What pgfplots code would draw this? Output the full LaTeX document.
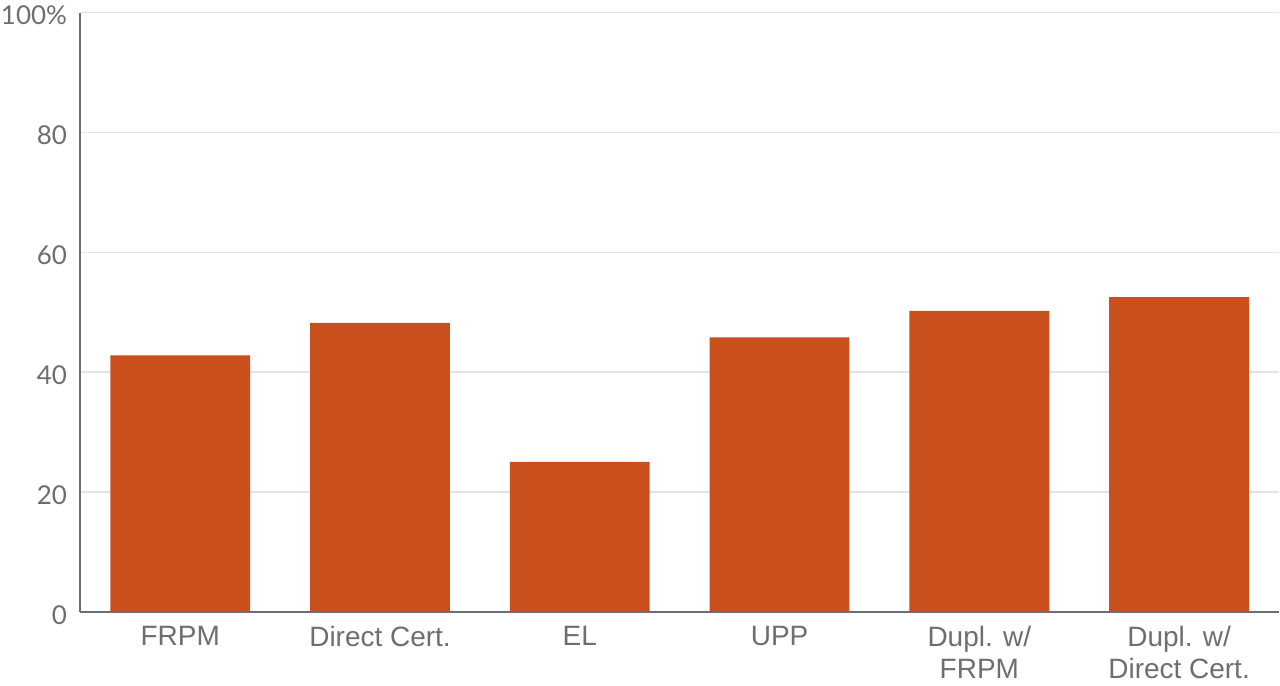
\documentclass[border=0pt]{standalone}
\usepackage{pgfplots}
\pgfplotsset{compat=1.18}
\usepackage{fontspec}
\setmainfont{Liberation Sans}
\newfontfamily\tickfont{Lato}
\definecolor{barc}{HTML}{C9501C}
\definecolor{axc}{HTML}{6D6E71}
\definecolor{gridc}{HTML}{E3E3E3}
\definecolor{txtc}{HTML}{6D6E71}
\begin{document}
\begin{tikzpicture}
\begin{axis}[
  scale only axis,
  width=600pt, height=300pt,
  xmin=-0.5, xmax=5.5, ymin=0, ymax=100,
  axis x line*=bottom, axis y line*=left,
  axis line style={axc, line width=1pt},
  x axis line style={-}, y axis line style={-},
  ytick={0,20,40,60,80,100},
  yticklabels={0,20,40,60,80,100\%},
  xtick={0,1,2,3,4,5},
  xticklabels={FRPM,Direct Cert.,EL,UPP,{Dupl. w/\\FRPM},{Dupl. w/\\Direct Cert.}},
  x tick label style={align=center, font=\fontsize{14}{16.3}\selectfont, text=txtc, yshift=-3.5pt},
  y tick label style={font=\tickfont\fontsize{13}{15}\selectfont, text=txtc, inner xsep=0.5pt, inner ysep=3pt, xshift=-6pt, yshift=-1.5pt},
  major tick length=0pt,
  ymajorgrids, grid style={gridc, line width=0.6pt},
  ybar, bar width=0.7, bar shift=0pt,
  clip=false,
]
\addplot[fill=barc, draw=none] coordinates {(0,42.8) (1,48.2) (2,25.0) (3,45.8) (4,50.2) (5,52.5)};
\end{axis}
\end{tikzpicture}
\end{document}
